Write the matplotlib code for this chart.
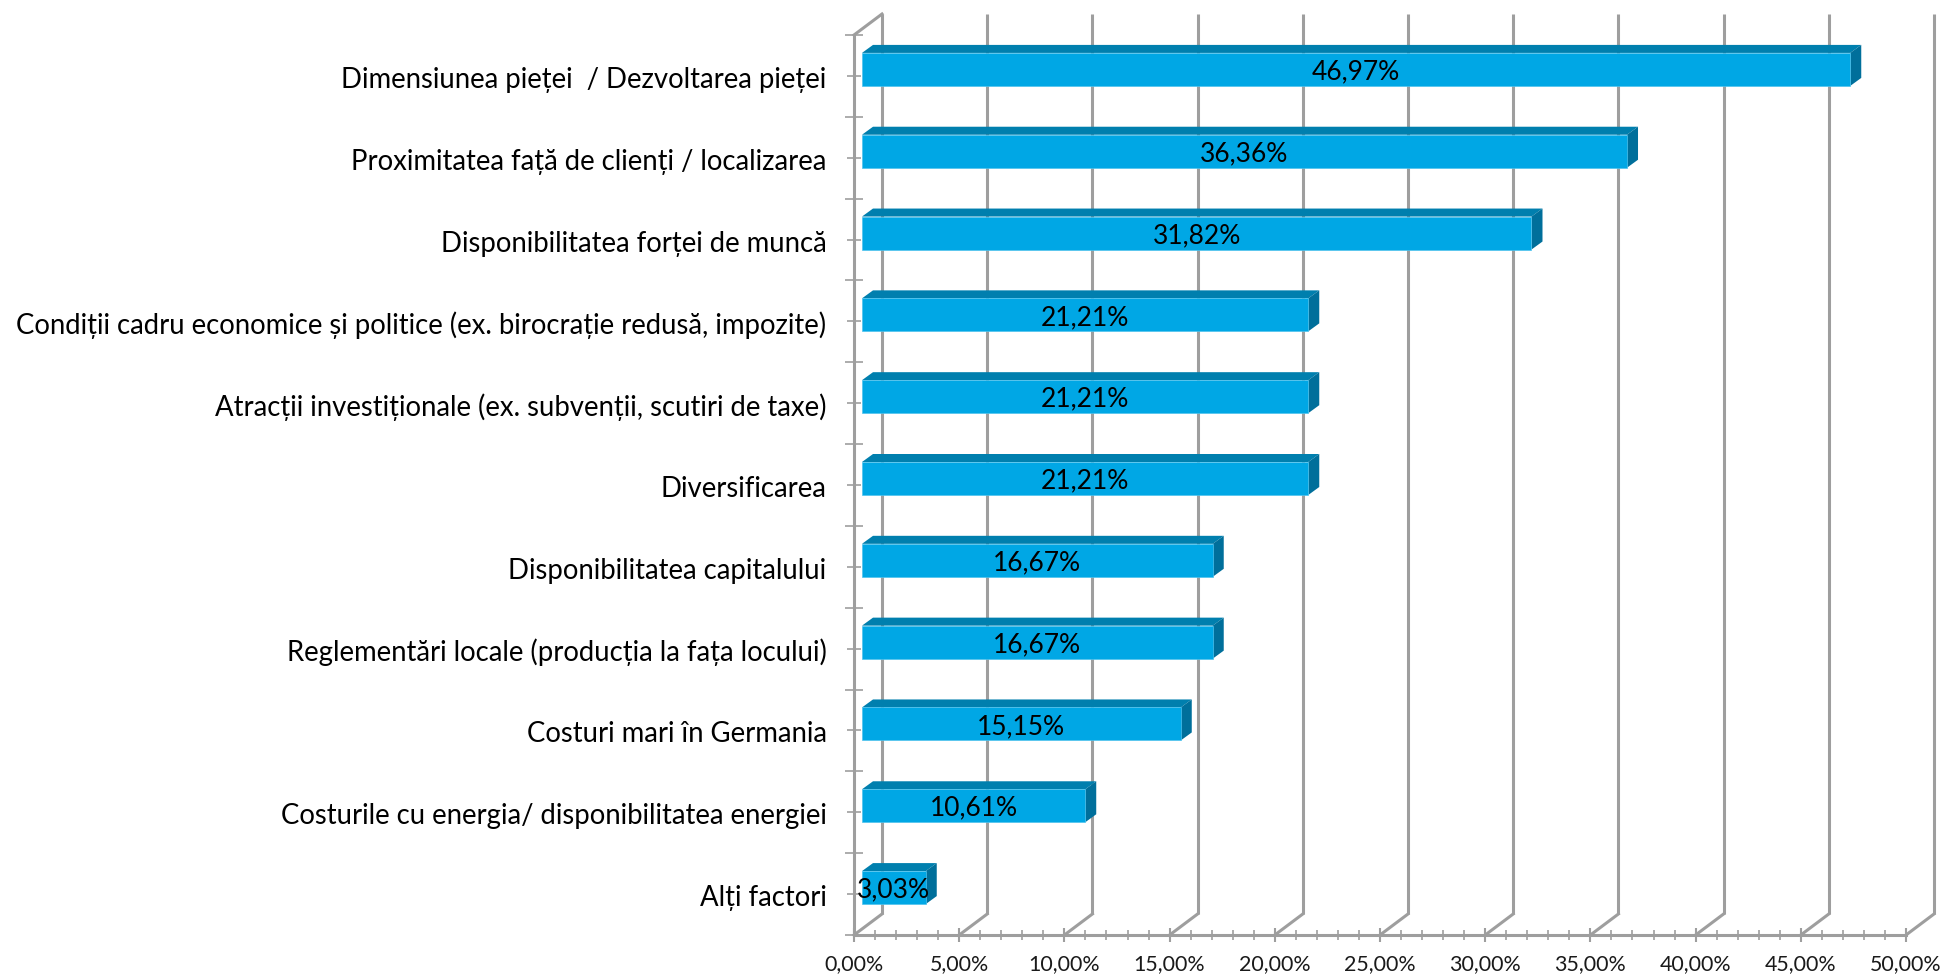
import matplotlib
matplotlib.use('Agg')
import matplotlib.pyplot as plt
from matplotlib.patches import Polygon
from matplotlib.ticker import FixedLocator
from matplotlib.transforms import Affine2D

categories = ['Dimensiunea pieței  / Dezvoltarea pieței',
              'Proximitatea față de clienți / localizarea',
              'Disponibilitatea forței de muncă',
              'Condiții cadru economice și politice (ex. birocrație redusă, impozite)',
              'Atracții investiționale (ex. subvenții, scutiri de taxe)',
              'Diversificarea',
              'Disponibilitatea capitalului',
              'Reglementări locale (producția la fața locului)',
              'Costuri mari în Germania',
              'Costurile cu energia/ disponibilitatea energiei',
              'Alți factori']
values = [46.97, 36.36, 31.82, 21.21, 21.21, 21.21, 16.67, 16.67, 15.15, 10.61, 3.03]
value_labels = ['46,97%', '36,36%', '31,82%', '21,21%', '21,21%', '21,21%',
                '16,67%', '16,67%', '15,15%', '10,61%', '3,03%']
xticks = [0, 5, 10, 15, 20, 25, 30, 35, 40, 45, 50]
xtick_labels = ['0,00%', '5,00%', '10,00%', '15,00%', '20,00%', '25,00%',
                '30,00%', '35,00%', '40,00%', '45,00%', '50,00%']

plt.rcParams['font.family'] = ['Lato', 'DejaVu Sans']

W, H = 1947, 977
GREY = '#9e9e9e'
FRONT = '#00a7e5'
TOP = '#007fae'
SIDE = '#006f9b'
EDGE = '#4fc3ee'

fig = plt.figure(figsize=(W / 100, H / 100), dpi=100)
# front plane of the fake 3d box, pixels from the reference
ax = fig.add_axes([854 / W, 1 - 935 / H, 1052 / W, 900 / H])
n = len(categories)
ax.set_xlim(0, 50)
ax.set_ylim(n, 0)

# offsets in pixels for the depth effect
back = ax.transData + Affine2D().translate(28, 21)
bar_tr = ax.transData + Affine2D().translate(8, 6.5)
text_tr = bar_tr + Affine2D().translate(0, -2.5)
depth_x, depth_y = 11, 8

# back wall and the floor diagonals
for v in xticks:
    ax.plot([v, v], [0, n], color=GREY, lw=2.2, transform=back, clip_on=False, zorder=1,
            solid_capstyle='butt')
    p0 = ax.transData.transform((v, n))
    ax.plot([p0[0], p0[0] + 28], [p0[1], p0[1] + 21], color=GREY, lw=2.2,
            transform=None, clip_on=False, zorder=1)
p0 = ax.transData.transform((0, 0))
ax.plot([p0[0], p0[0] + 28], [p0[1], p0[1] + 21], color=GREY, lw=2.2,
        transform=None, clip_on=False, zorder=1)

ypos = [i + 0.5 for i in range(n)]
bar_h = 33 / (900 / n)
bars = ax.barh(ypos, values, height=bar_h, color=FRONT, edgecolor=EDGE, linewidth=0.5,
               transform=bar_tr, clip_on=False, zorder=3)

for y, v, lab in zip(ypos, values, value_labels):
    # top and side faces are built in display pixels from the bar corners
    x0, y1 = bar_tr.transform((0, y - bar_h / 2))
    x1, y0 = bar_tr.transform((v, y + bar_h / 2))
    top = Polygon([(x0, y1), (x1, y1), (x1 + depth_x, y1 + depth_y), (x0 + depth_x, y1 + depth_y)],
                  closed=True, facecolor=TOP, edgecolor='none',
                  transform=None, clip_on=False, zorder=2)
    side = Polygon([(x1, y0), (x1 + depth_x, y0 + depth_y), (x1 + depth_x, y1 + depth_y), (x1, y1)],
                   closed=True, facecolor=SIDE, edgecolor='none',
                   transform=None, clip_on=False, zorder=2)
    ax.add_patch(top)
    ax.add_patch(side)
    ax.text(v / 2, y, lab, transform=text_tr, ha='center', va='center', fontsize=19,
            color='black', zorder=5, clip_on=False)

for s in ['top', 'right']:
    ax.spines[s].set_visible(False)
for s in ['left', 'bottom']:
    ax.spines[s].set_color(GREY)
    ax.spines[s].set_linewidth(2.2)
    ax.spines[s].set_zorder(1.5)

ax.set_xticks(xticks)
ax.set_xticklabels(xtick_labels, fontsize=15.4, color='#1a1a1a')
ax.xaxis.set_minor_locator(FixedLocator([i for i in range(51) if i % 5 != 0]))
ax.tick_params(axis='x', which='major', direction='inout', length=10, width=1.5, color=GREY, pad=9)
ax.tick_params(axis='x', which='minor', direction='inout', length=7, width=1.2, color=GREY)

ax.set_yticks(range(n + 1))
ax.set_yticklabels([])
ax.set_yticks(ypos, minor=True)
ax.set_yticklabels(categories, minor=True, fontsize=19.8, color='black')
ax.tick_params(axis='y', which='major', direction='inout', length=13, width=1.2, color=GREY)
ax.tick_params(axis='y', which='minor', direction='inout', length=9.5, width=1.2, color=GREY, pad=15)
for label in ax.get_yticklabels(minor=True):
    label.set_transform(label.get_transform() + Affine2D().translate(0, -1.5))

fig.savefig('out.png', dpi=100)
